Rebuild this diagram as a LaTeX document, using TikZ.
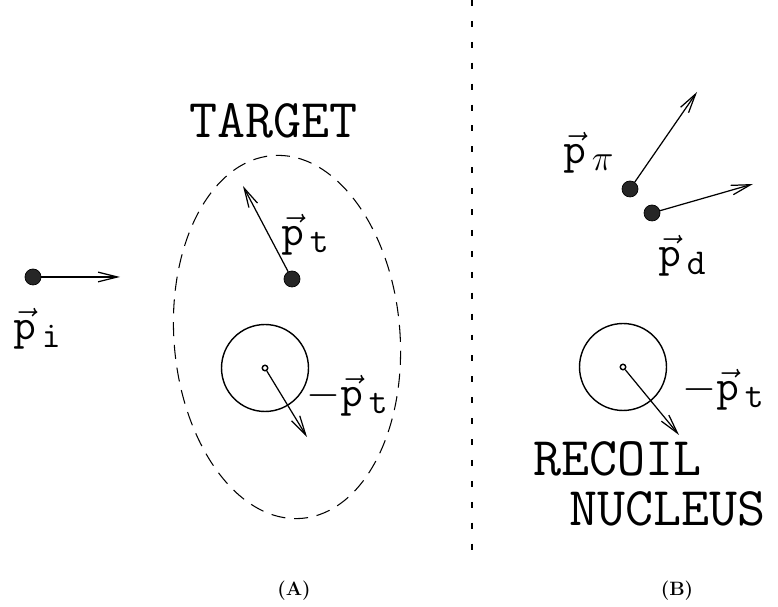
\documentclass[tikz,border=0pt]{standalone}
\usepackage{amsmath}
\usetikzlibrary{arrows.meta}
\tikzset{
  particle/.style={circle,fill=black!85,draw=black,inner sep=0pt,minimum size=0.32cm},
  nucleus/.style={circle,draw,line width=0.8pt,inner sep=0pt,minimum size=1.74cm},
  centredot/.style={circle,draw,line width=0.8pt,inner sep=0pt,minimum size=0.11cm},
  mom/.style={line width=0.7pt,-{Straight Barb[length=11pt,width=5.5pt]}},
  lbl/.style={inner sep=0pt,anchor=base west,font=\fontsize{31}{36}\selectfont},
  word/.style={inner sep=0pt,anchor=base west,font=\fontsize{31}{36}\selectfont\ttfamily},
  panel/.style={inner sep=0pt,font=\fontsize{11}{13}\selectfont\bfseries}
}
\newcommand{\mvec}[1]{$\vec{\mathtt{p}}_{\,#1}$}

\begin{document}
\begin{tikzpicture}[x=0.02cm,y=-0.02cm]
  \useasboundingbox (0,0) rectangle (778,607);
  % (A): incoming particle and target
  \node[particle] (pin) at (33,277) {};
  \coordinate (pintip) at (120,277);
  \draw[mom] (pin) -- (pintip);
  \node[lbl] (lpin) at (13,340) {\mvec{\mathtt{i}}};
  \node[word] (target) at (189,138) {TARGET};
  \draw[dashed,dash pattern=on 8pt off 5pt,line width=0.6pt,
    rotate around={4.6:(287,337)}] (287,337) ellipse [x radius=113, y radius=182];
  \node[particle] (pt) at (292,279) {};
  \coordinate (pttip) at (243,186);
  \draw[mom] (pt) -- (pttip);
  \node[lbl] (lpt) at (281,246) {\mvec{\mathtt{t}}};
  \node[nucleus] (nucA) at (265,368) {};
  \node[centredot] (cA) at (265,368) {};
  \coordinate (cAtip) at (307,437);
  \draw[mom] (cA) -- (cAtip);
  \node[lbl] (lmA) at (306,407) {$-$\mvec{\mathtt{t}}};
  \node[panel] (panA) at (294,591) {(A)};
  % separator
  \coordinate (septop) at (472,0);
  \coordinate (sepbot) at (472,555);
  \draw[line width=0.6pt,dash pattern=on 3.4pt off 8.5pt] (septop) -- (sepbot);
  % (B): outgoing pion, deuteron and recoil
  \node[particle] (ppi) at (630,189) {};
  \coordinate (ppitip) at (697,92);
  \draw[mom] (ppi) -- (ppitip);
  \node[lbl] (lppi) at (563,164) {\mvec{\pi}};
  \node[particle] (pd) at (652,213) {};
  \coordinate (pdtip) at (753,184);
  \draw[mom] (pd) -- (pdtip);
  \node[lbl] (lpd) at (658,267) {\mvec{\mathtt{d}}};
  \node[nucleus] (nucB) at (623,367) {};
  \node[centredot] (cB) at (623,367) {};
  \coordinate (cBtip) at (679,435);
  \draw[mom] (cB) -- (cBtip);
  \node[lbl] (lmB) at (682,401) {$-$\mvec{\mathtt{t}}};
  \node[word] (recoil) at (533,476) {RECOIL};
  \node[word] (nucleus) at (569,526) {NUCLEUS};
  \node[panel] (panB) at (677,591) {(B)};
\end{tikzpicture}
\end{document}
